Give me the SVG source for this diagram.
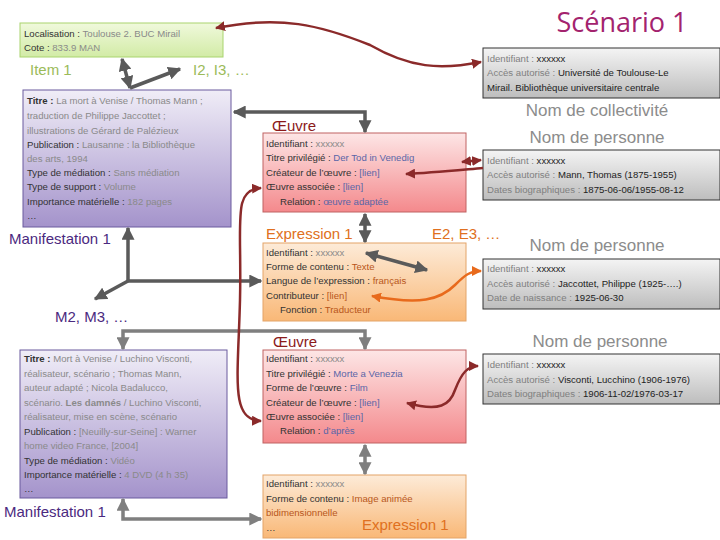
<svg xmlns="http://www.w3.org/2000/svg" width="720" height="540" viewBox="0 0 720 540">
<defs>
<linearGradient id="gItem" x1="0" y1="0" x2="0" y2="1"><stop offset="0" stop-color="#f0f9dc"/><stop offset="1" stop-color="#d2eba6"/></linearGradient>
<linearGradient id="gMan" x1="0" y1="0" x2="0" y2="1"><stop offset="0" stop-color="#f0edf7"/><stop offset="1" stop-color="#a493cb"/></linearGradient>
<linearGradient id="gOeu" x1="0" y1="0" x2="0" y2="1"><stop offset="0" stop-color="#fde6e6"/><stop offset="1" stop-color="#f4898c"/></linearGradient>
<linearGradient id="gExp" x1="0" y1="0" x2="0" y2="1"><stop offset="0" stop-color="#fdebd8"/><stop offset="1" stop-color="#f9b877"/></linearGradient>
<linearGradient id="gGrey" x1="0" y1="0" x2="0" y2="1"><stop offset="0" stop-color="#f4f4f4"/><stop offset="1" stop-color="#bdbdbd"/></linearGradient>
<marker id="ag" viewBox="0 0 10 10" refX="9" refY="5" markerUnits="userSpaceOnUse" markerWidth="13" markerHeight="13" orient="auto-start-reverse"><path d="M0,0L10,5L0,10z" fill="#5a5a5a"/></marker>
<marker id="al" viewBox="0 0 10 10" refX="9" refY="5" markerUnits="userSpaceOnUse" markerWidth="13" markerHeight="13" orient="auto-start-reverse"><path d="M0,0L10,5L0,10z" fill="#7f7f7f"/></marker>
<marker id="ar" viewBox="0 0 10 10" refX="9" refY="5" markerUnits="userSpaceOnUse" markerWidth="10" markerHeight="10" orient="auto-start-reverse"><path d="M0,0L10,5L0,10z" fill="#8b2a2a"/></marker>
<marker id="ao" viewBox="0 0 10 10" refX="9" refY="5" markerUnits="userSpaceOnUse" markerWidth="10" markerHeight="10" orient="auto-start-reverse"><path d="M0,0L10,5L0,10z" fill="#e86a1c"/></marker>
</defs>
<style>
text{font-family:"Liberation Sans",Arial,sans-serif;}
.t{font-size:9.6px;fill:#333}
.v{fill:#8a8a8a}
.vb{fill:#5a66a8}
.vo{fill:#b8561a}
.gl{fill:#808080}
.gv{fill:#222}
.h{font-size:15px}
.hg{font-size:17px;fill:#8c8c8c}
.grey{fill:url(#gGrey);stroke:#333;stroke-width:1}
.gline{fill:none;stroke:#5a5a5a;stroke-width:3.5}
.lline{fill:none;stroke:#7f7f7f;stroke-width:3.5}
.rline{fill:none;stroke:#8b2a2a;stroke-width:2.5}
.oline{fill:none;stroke:#e86a1c;stroke-width:2.5}
</style>
<text x="622" y="32" font-size="27" fill="#a3236e" text-anchor="middle" style="font-family:'Open Sans',sans-serif">Scénario 1</text>

<g id="item1">
<rect x="20" y="23" width="203" height="34" fill="url(#gItem)" stroke="#a9d46f"/>
<text class="t" x="24" y="37">Localisation : <tspan class="v">Toulouse 2. BUC Mirail</tspan></text>
<text class="t" x="24" y="51">Cote : <tspan class="v">833.9 MAN</tspan></text>
<text class="h" x="30" y="75" fill="#9bbb59">Item 1</text>
<text class="h" x="193" y="75" fill="#9bbb59">I2, I3, …</text>
</g>

<g id="manif1">
<rect x="23" y="90" width="208" height="137" fill="url(#gMan)" stroke="#6a5a9e"/>
<text class="t" x="27" y="104"><tspan font-weight="bold">Titre : </tspan><tspan class="v">La mort à Venise / Thomas Mann ;</tspan></text>
<text class="t v" x="27" y="119">traduction de Philippe Jaccottet ;</text>
<text class="t v" x="27" y="134">illustrations de Gérard de Palézieux</text>
<text class="t" x="27" y="148">Publication : <tspan class="v">Lausanne : la Bibliothèque</tspan></text>
<text class="t v" x="27" y="162">des arts, 1994</text>
<text class="t" x="27" y="176">Type de médiation : <tspan class="v">Sans médiation</tspan></text>
<text class="t" x="27" y="190">Type de support : <tspan class="v">Volume</tspan></text>
<text class="t" x="27" y="205">Importance matérielle : <tspan class="v">182 pages</tspan></text>
<text class="t" x="27" y="219">…</text>
<text class="h" x="9" y="244" fill="#4b2a80">Manifestation 1</text>
<text class="h" x="55" y="322" fill="#4b2a80">M2, M3, …</text>
</g>

<g id="oeuvre1">
<text class="h" x="272" y="131" fill="#8b1a1a">Œuvre</text>
<rect x="263" y="133" width="203" height="79" fill="url(#gOeu)" stroke="#c06262"/>
<text class="t" x="266" y="147">Identifiant : <tspan class="v">xxxxxx</tspan></text>
<text class="t" x="266" y="161">Titre privilégié : <tspan class="vb">Der Tod in Venedig</tspan></text>
<text class="t" x="266" y="176">Créateur de l’œuvre : <tspan class="vb">[lien]</tspan></text>
<text class="t" x="266" y="190">Œuvre associée : <tspan class="vb">[lien]</tspan></text>
<text class="t" x="280" y="205">Relation : <tspan class="vb">œuvre adaptée</tspan></text>
</g>

<g id="expr1">
<text class="h" x="266" y="239" fill="#e07020">Expression 1</text>
<text class="h" x="432" y="239" fill="#e07020">E2, E3, …</text>
<rect x="263" y="243" width="203" height="78" fill="url(#gExp)" stroke="#e3a468"/>
<text class="t" x="266" y="256">Identifiant : <tspan class="v">xxxxxx</tspan></text>
<text class="t" x="266" y="270">Forme de contenu : <tspan class="vo">Texte</tspan></text>
<text class="t" x="266" y="284">Langue de l’expression : <tspan class="vo">français</tspan></text>
<text class="t" x="266" y="299">Contributeur : <tspan class="vo">[lien]</tspan></text>
<text class="t" x="280" y="313">Fonction : <tspan class="vo">Traducteur</tspan></text>
</g>

<g id="oeuvre2">
<text class="h" x="273" y="347" fill="#8b1a1a">Œuvre</text>
<rect x="263" y="350" width="203" height="93" fill="url(#gOeu)" stroke="#c06262"/>
<text class="t" x="266" y="362">Identifiant : <tspan class="v">xxxxxx</tspan></text>
<text class="t" x="266" y="377">Titre privilégié : <tspan class="vb">Morte a Venezia</tspan></text>
<text class="t" x="266" y="391">Forme de l’œuvre : <tspan class="vb">Film</tspan></text>
<text class="t" x="266" y="406">Créateur de l’œuvre : <tspan class="vb">[lien]</tspan></text>
<text class="t" x="266" y="420">Œuvre associée : <tspan class="vb">[lien]</tspan></text>
<text class="t" x="280" y="434">Relation : <tspan class="vb">d’après</tspan></text>
</g>

<g id="expr2">
<rect x="263" y="475" width="203" height="63" fill="url(#gExp)" stroke="#e3a468"/>
<text class="t" x="266" y="487">Identifiant : <tspan class="v">xxxxxx</tspan></text>
<text class="t" x="266" y="502">Forme de contenu : <tspan class="vo">Image animée</tspan></text>
<text class="t vo" x="266" y="516">bidimensionnelle</text>
<text class="t" x="266" y="531">…</text>
<text class="h" x="362" y="530" fill="#e07020">Expression 1</text>
</g>

<g id="manif2">
<rect x="20" y="350" width="207" height="148" fill="url(#gMan)" stroke="#6a5a9e"/>
<text class="t" x="24" y="362"><tspan font-weight="bold">Titre : </tspan><tspan class="v">Mort à Venise / Luchino Visconti,</tspan></text>
<text class="t v" x="24" y="377">réalisateur, scénario ; Thomas Mann,</text>
<text class="t v" x="24" y="391">auteur adapté ; Nicola Badalucco,</text>
<text class="t v" x="24" y="406">scénario. <tspan font-weight="bold">Les damnés</tspan> / Luchino Visconti,</text>
<text class="t v" x="24" y="420">réalisateur, mise en scène, scénario</text>
<text class="t" x="24" y="435">Publication : <tspan class="v">[Neuilly-sur-Seine] : Warner</tspan></text>
<text class="t v" x="24" y="449">home video France, [2004]</text>
<text class="t" x="24" y="464">Type de médiation : <tspan class="v">Vidéo</tspan></text>
<text class="t" x="24" y="478">Importance matérielle : <tspan class="v">4 DVD (4 h 35)</tspan></text>
<text class="t" x="24" y="492">…</text>
<text class="h" x="4" y="517" fill="#4b2a80">Manifestation 1</text>
</g>

<g id="collectivite">
<rect class="grey" x="483" y="48" width="237" height="50"/>
<text class="t gl" x="487" y="62">Identifiant : <tspan class="gv">xxxxxx</tspan></text>
<text class="t gl" x="487" y="76">Accès autorisé : <tspan class="gv">Université de Toulouse-Le</tspan></text>
<text class="t gv" x="487" y="91">Mirail. Bibliothèque universitaire centrale</text>
<text class="hg" x="597" y="116" text-anchor="middle">Nom de collectivité</text>
</g>

<g id="personne1">
<text class="hg" x="597" y="143" text-anchor="middle">Nom de personne</text>
<rect class="grey" x="483" y="150" width="237" height="50"/>
<text class="t gl" x="487" y="164">Identifiant : <tspan class="gv">xxxxxx</tspan></text>
<text class="t gl" x="487" y="178">Accès autorisé : <tspan class="gv">Mann, Thomas (1875-1955)</tspan></text>
<text class="t gl" x="487" y="193">Dates biographiques : <tspan class="gv">1875-06-06/1955-08-12</tspan></text>
</g>

<g id="personne2">
<text class="hg" x="597" y="251" text-anchor="middle">Nom de personne</text>
<rect class="grey" x="483" y="259" width="237" height="50"/>
<text class="t gl" x="487" y="272">Identifiant : <tspan class="gv">xxxxxx</tspan></text>
<text class="t gl" x="487" y="287">Accès autorisé : <tspan class="gv">Jaccottet, Philippe (1925-….)</tspan></text>
<text class="t gl" x="487" y="301">Date de naissance : <tspan class="gv">1925-06-30</tspan></text>
</g>

<g id="personne3">
<text class="hg" x="600" y="347" text-anchor="middle">Nom de personne</text>
<rect class="grey" x="483" y="354" width="237" height="50"/>
<text class="t gl" x="487" y="368">Identifiant : <tspan class="gv">xxxxxx</tspan></text>
<text class="t gl" x="487" y="383">Accès autorisé : <tspan class="gv">Visconti, Lucchino (1906-1976)</tspan></text>
<text class="t gl" x="487" y="397">Dates biographiques : <tspan class="gv">1906-11-02/1976-03-17</tspan></text>
</g>

<g id="connectors">
<path class="gline" d="M122,59 L130,88" marker-start="url(#ag)" marker-end="url(#ag)"/>
<path class="gline" d="M130,88 L180,69" marker-end="url(#ag)"/>
<path class="gline" d="M365,132 V112 H234" marker-start="url(#ag)" marker-end="url(#ag)"/>
<path class="gline" d="M365,214 V242" marker-start="url(#ag)" marker-end="url(#ag)"/>
<path class="gline" d="M128,228 V281 H261" marker-start="url(#ag)" marker-end="url(#ag)"/>
<path class="gline" d="M128,281 L95,299" marker-end="url(#ag)"/>
<path class="gline" d="M366,253 L427,270" marker-start="url(#ag)" marker-end="url(#ag)"/>
<path class="lline" d="M123,349 V331 H365 V349" marker-start="url(#al)" marker-end="url(#al)"/>
<path class="lline" d="M365,445 V474" marker-start="url(#al)" marker-end="url(#al)"/>
<path class="lline" d="M123,499 V519 H261" marker-start="url(#al)" marker-end="url(#al)"/>
<path class="rline" d="M216,28 C280,15 320,25 370,45 C410,68 440,70 481,62" marker-start="url(#ar)" marker-end="url(#ar)"/>
<path class="rline" d="M261,421 C230,420 238,380 240,300 C242,220 232,190 261,188" marker-start="url(#ar)" marker-end="url(#ar)"/>
<path class="rline" d="M462,162 L481,160" marker-start="url(#ar)" marker-end="url(#ar)"/>
<path class="rline" d="M483,168 C460,170 430,173 406,174" marker-end="url(#ar)"/>
<path class="oline" d="M372,296 C420,305 440,300 455,285 C465,275 470,271 481,271" marker-start="url(#ao)" marker-end="url(#ao)"/>
<path class="rline" d="M407,403 C440,412 450,405 455,390 C462,372 468,366 478,366" marker-start="url(#ar)" marker-end="url(#ar)"/>
</g>
</svg>
